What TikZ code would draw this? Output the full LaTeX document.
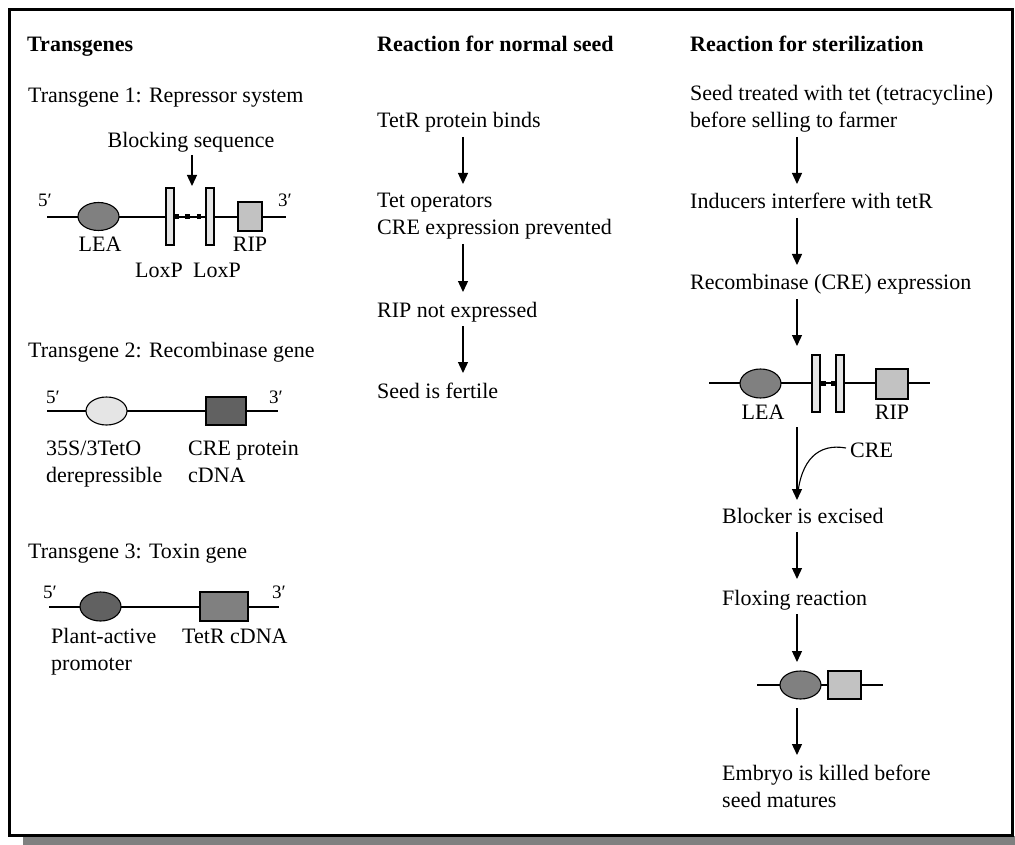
\documentclass[tikz,border=0pt]{standalone}
\usepackage{fontspec}
\setmainfont{Liberation Serif}
\usetikzlibrary{arrows.meta,shapes.geometric}
\definecolor{gMid}{gray}{0.5}
\definecolor{gDark}{gray}{0.38}
\definecolor{gLight}{gray}{0.9}
\definecolor{gRip}{gray}{0.76}
\definecolor{gShadow}{gray}{0.5}
\begin{document}
\begin{tikzpicture}[x=1pt,y=-1pt,
  txt/.style={font=\fontsize{22}{27}\selectfont,inner sep=0pt,align=left,anchor=base west},
  hdr/.style={font=\fontsize{22}{27}\selectfont\bfseries,inner sep=0pt,anchor=base west},
  lbl/.style={font=\fontsize{22}{27}\selectfont,inner sep=0pt,anchor=base},
  prime/.style={font=\fontsize{19}{22}\selectfont,inner sep=0pt,anchor=base west},
  dna/.style={line width=1.3pt},
  arr/.style={line width=1.3pt,-{Triangle[width=10pt,length=11pt]}},
  oval/.style={ellipse,draw,line width=1.1pt,inner sep=0pt,minimum width=41pt,minimum height=28pt},
  gbox/.style={rectangle,draw,line width=1.1pt,inner sep=0pt},
  loxbox/.style={gbox,fill=gLight,minimum width=8pt,minimum height=57pt},
  dot/.style={rectangle,fill=black,inner sep=0pt,minimum width=4.5pt,minimum height=4.5pt},
]
\useasboundingbox (0,0) rectangle (1015,845);
% frame and shadow
\fill[gShadow] (23,836) rectangle (1015,845);
\draw[line width=2.5pt] (9.5,9.5) rectangle (1012.5,835.5);

% ---------- left column ----------
\node[hdr] (hT) at (27,52) {Transgenes};
\node[txt] (t1) at (28,103) {Transgene 1: Repressor system};
\node[lbl] (blk) at (191,148) {Blocking sequence};
\coordinate (blkS) at (192,155);
\coordinate (blkE) at (192,186);
\draw[arr] (blkS) -- (blkE);

\coordinate (g1L) at (47,217);
\coordinate (g1R) at (286,217);
\draw[dna] (g1L) -- (g1R);
\node[oval,fill=gMid] (lea1) at (98.5,216.5) {};
\node[loxbox] (lox1) at (170,216.5) {};
\node[loxbox] (lox2) at (210,216.5) {};
\node[dot] (d1) at (177,216.5) {};
\node[dot] (d2) at (187.5,216.5) {};
\node[dot] (d3) at (199,216.5) {};
\node[gbox,fill=gRip,minimum width=24pt,minimum height=29pt] (rip1) at (250,216.5) {};
\node[prime] (p5a) at (38,207) {5′};
\node[prime] (p3a) at (278,207) {3′};
\node[lbl] (leaL) at (100,252) {LEA};
\node[lbl] (ripL) at (250,252) {RIP};
\node[lbl] (loxL1) at (159,277) {LoxP};
\node[lbl] (loxL2) at (217,277) {LoxP};

\node[txt] (t2) at (28,357) {Transgene 2: Recombinase gene};
\coordinate (g2L) at (47,411);
\coordinate (g2R) at (278,411);
\draw[dna] (g2L) -- (g2R);
\node[oval,fill=gLight] (pro2) at (106.5,411) {};
\node[gbox,fill=gDark,minimum width=40pt,minimum height=28pt] (cre2box) at (226,411) {};
\node[prime] (p5b) at (46,403) {5′};
\node[prime] (p3b) at (269,403) {3′};
\node[txt] (pr2) at (46,482) {35S/3TetO\\derepressible};
\node[txt] (cre2) at (188,482) {CRE protein\\cDNA};

\node[txt] (t3) at (28,558) {Transgene 3: Toxin gene};
\coordinate (g3L) at (49,607);
\coordinate (g3R) at (279,607);
\draw[dna] (g3L) -- (g3R);
\node[oval,fill=gDark,minimum height=29pt] (pro3) at (100.5,606.5) {};
\node[gbox,fill=gMid,minimum width=48pt,minimum height=29pt] (tet3) at (224,606.5) {};
\node[prime] (p5c) at (43,598) {5′};
\node[prime] (p3c) at (272,598) {3′};
\node[txt] (pa) at (51,670) {Plant-active\\promoter};
\node[txt] (tc) at (182,643) {TetR cDNA};

% ---------- middle column ----------
\node[hdr] (hM) at (377,52) {Reaction for normal seed};
\node[txt] (m1) at (377,128) {TetR protein binds};
\node[txt] (m2) at (377,235) {Tet operators\\CRE expression prevented};
\node[txt] (m3) at (377,317) {RIP not expressed};
\node[txt] (m4) at (377,398) {Seed is fertile};
\coordinate (ma1) at (463,137); \coordinate (mb1) at (463,184);
\coordinate (ma2) at (463,244); \coordinate (mb2) at (463,292);
\coordinate (ma3) at (463,326); \coordinate (mb3) at (463,373);
\draw[arr] (ma1) -- (mb1);
\draw[arr] (ma2) -- (mb2);
\draw[arr] (ma3) -- (mb3);

% ---------- right column ----------
\node[hdr] (hR) at (690,52) {Reaction for sterilization};
\node[txt] (r1) at (690,128) {Seed treated with tet (tetracycline)\\before selling to farmer};
\node[txt] (r2) at (690,209) {Inducers interfere with tetR};
\node[txt] (r3) at (690,290) {Recombinase (CRE) expression};
\coordinate (ra1) at (797,137); \coordinate (rb1) at (797,184);
\coordinate (ra2) at (797,218); \coordinate (rb2) at (797,265);
\coordinate (ra3) at (797,299); \coordinate (rb3) at (797,346);
\draw[arr] (ra1) -- (rb1);
\draw[arr] (ra2) -- (rb2);
\draw[arr] (ra3) -- (rb3);

\coordinate (g4L) at (709,383);
\coordinate (g4R) at (930,383);
\draw[dna] (g4L) -- (g4R);
\node[oval,fill=gMid,minimum height=29pt] (lea4) at (760.5,383.5) {};
\node[loxbox] (lox4a) at (816,383.5) {};
\node[loxbox] (lox4b) at (840,383.5) {};
\node[dot,minimum width=5pt,minimum height=5pt] (d4a) at (823.5,383.5) {};
\node[dot,minimum width=5pt,minimum height=5pt] (d4b) at (833.5,383.5) {};
\node[gbox,fill=gRip,minimum width=32pt,minimum height=30pt] (rip4) at (892,384) {};
\node[lbl] (leaR) at (763,419) {LEA};
\node[lbl] (ripR) at (892,419) {RIP};

\coordinate (ra4) at (797,427); \coordinate (rb4) at (797,500);
\draw[arr] (ra4) -- (rb4);
\node[txt] (creL) at (850,457) {CRE};
\coordinate (creS) at (846,448);
\coordinate (creJ) at (797.5,496);
\draw[line width=1.1pt] (creS) .. controls (818,443) and (801,460) .. (creJ);

\node[txt] (r4) at (722,523) {Blocker is excised};
\node[txt] (r5) at (722,605) {Floxing reaction};
\coordinate (ra5) at (797,532); \coordinate (rb5) at (797,579);
\coordinate (ra6) at (797,614); \coordinate (rb6) at (797,662);
\draw[arr] (ra5) -- (rb5);
\draw[arr] (ra6) -- (rb6);

\coordinate (g5L) at (757,685);
\coordinate (g5R) at (883,685);
\draw[dna] (g5L) -- (g5R);
\node[oval,fill=gMid] (lea5) at (800.5,685) {};
\node[gbox,fill=gRip,minimum width=33pt,minimum height=28pt] (rip5) at (844.5,685) {};

\coordinate (ra7) at (797,708); \coordinate (rb7) at (797,755);
\draw[arr] (ra7) -- (rb7);
\node[txt] (r6) at (722,807) {Embryo is killed before\\seed matures};
\end{tikzpicture}
\end{document}
